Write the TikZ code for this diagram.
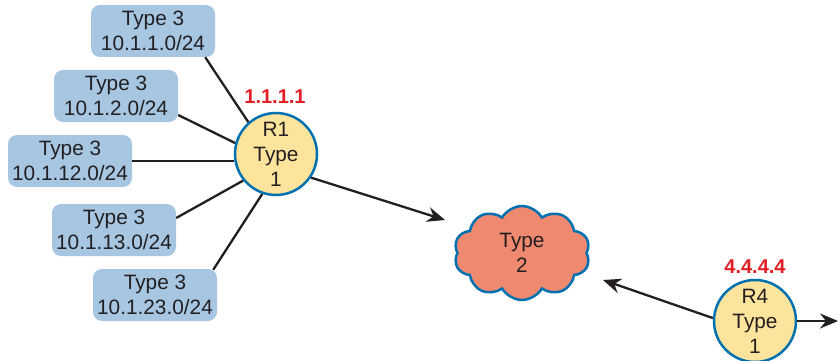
\documentclass[tikz,border=0pt]{standalone}
\usepackage{fontspec}
\setmainfont{Liberation Sans}
\usetikzlibrary{shapes.symbols,arrows.meta,calc}
\definecolor{boxblue}{RGB}{166,198,226}
\definecolor{rfill}{RGB}{253,228,156}
\definecolor{rborder}{RGB}{0,113,176}
\definecolor{cloudfill}{RGB}{239,137,112}
\definecolor{txt}{RGB}{35,31,32}
\definecolor{lblred}{RGB}{228,30,38}
\begin{document}
\begin{tikzpicture}[x=1pt,y=-1pt,
  lsa/.style={fill=boxblue, rounded corners=9pt, minimum width=124pt, minimum height=52pt, inner sep=0pt, align=center, font=\fontsize{20.8}{25}\selectfont, text=txt},
  router/.style={circle, draw=rborder, line width=2.5pt, fill=rfill, minimum size=82pt, inner sep=0pt, align=center, font=\fontsize{20.8}{25}\selectfont, text=txt},
  rid/.style={text=lblred, font=\bfseries\fontsize{20}{24}\selectfont, inner sep=0pt},
  cloudnode/.style={cloud, cloud puffs=10, cloud puff arc=120, aspect=1.45, draw=rborder, line width=2.5pt, fill=cloudfill, minimum width=136pt, minimum height=94pt, inner sep=0pt, align=center, font=\fontsize{20.8}{25}\selectfont, text=txt},
  link/.style={draw=txt, line width=2.3pt},
  arr/.style={link, -{Stealth[length=18pt,width=15pt,inset=6pt]}}
]
\useasboundingbox (0,0) rectangle (838,361);

\node[lsa] (b1) at (153,31) {Type 3\\10.1.1.0/24};
\node[lsa] (b2) at (116,96) {Type 3\\10.1.2.0/24};
\node[lsa] (b3) at (70,161) {Type 3\\10.1.12.0/24};
\node[lsa] (b4) at (114,230) {Type 3\\10.1.13.0/24};
\node[lsa] (b5) at (155,295) {Type 3\\10.1.23.0/24};

\node[router] (r1) at (276,154) {R1\\Type\\1};
\node[rid] (r1id) at (275,97) {1.1.1.1};

\node[cloudnode] (c2) at (522,253) {Type\\2};

\node[router] (r4) at (755,321) {R4\\Type\\1};
\node[rid] (r4id) at (755,267) {4.4.4.4};

\coordinate (t1) at ($(c2.center)+(-77,-33)$);
\coordinate (t2) at ($(c2.center)+(81,27)$);
\coordinate (t3) at (838,321);

\draw[link] ($(b1.south east)+(-10,0)$) -- (r1.131);
\draw[link] ($(b2.east)+(0,19)$) -- (r1.165);
\draw[link] (b3.east) -- (r1.west |- b3.east);
\draw[link] ($(b4.east)+(0,-12)$) -- (r1.219);
\draw[link] ($(b5.north east)+(-4,1)$) -- (r1.251);

\draw[arr] (r1.-34) -- (t1);
\draw[arr] (r4.176) -- (t2);
\draw[arr] (r4.east) -- (t3);
\end{tikzpicture}
\end{document}
